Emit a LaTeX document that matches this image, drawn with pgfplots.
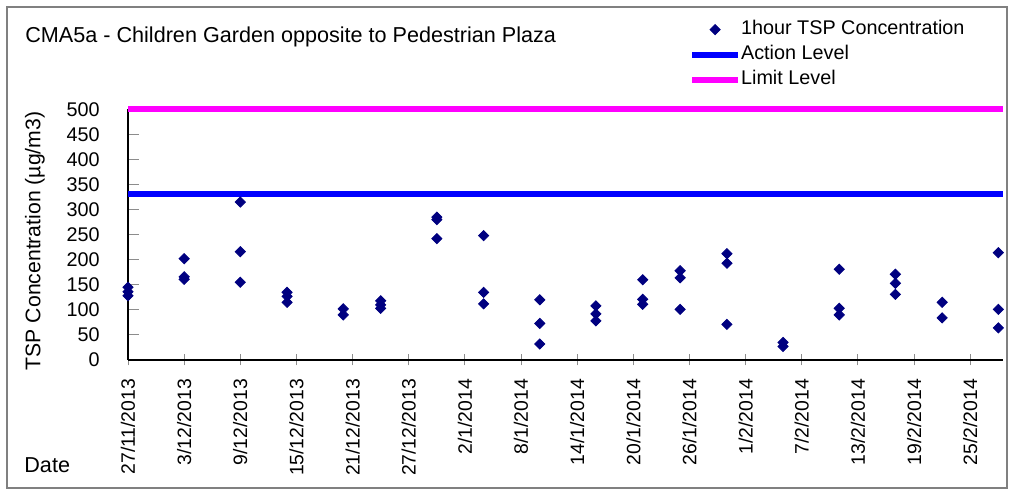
\documentclass[border=0pt]{standalone}
\usepackage{fontspec}
\setmainfont{Liberation Sans}
\usepackage{pgfplots}
\usepackage{pgfplotstable}
\pgfplotsset{compat=1.18}
\definecolor{navyc}{HTML}{000080}
\definecolor{actionc}{HTML}{0000FF}
\definecolor{limitc}{HTML}{FF00FF}
\pgfplotsset{mylegmark/.style={legend image code/.code={\path[draw=none,fill=none] (0pt,0pt) -- (23pt,0pt); \draw[##1] plot coordinates {(11.5pt,0pt)};}}}
\pgfplotstableread{
x y
0 145
0 136
0 128
6 202
6 166
6 161
12 315
12 216
12 155
17 135
17 127
17 115
23 102
23 90
27 118
27 110
27 103
33 285
33 280
33 242
38 248
38 135
38 112
44 120
44 73
44 32
50 108
50 92
50 78
55 160
55 121
55 111
59 178
59 164
59 101
64 212
64 193
64 71
70 35
70 27
76 181
76 103
76 90
82 171
82 153
82 131
87 115
87 84
93 214
93 101
93 64
}\tspdata
\begin{document}
\begin{tikzpicture}
\path[use as bounding box] (0pt,0pt) rectangle (508pt,245.5pt);
\draw[line width=0.6pt, color=black!50] (3.5pt,1.5pt) rectangle (503.5pt,242pt);
\node[anchor=base west, inner sep=0pt, font=\fontsize{10.8}{12}\selectfont] at (12.5pt,224pt) {CMA5a - Children Garden opposite to Pedestrian Plaza};
\node[anchor=base west, inner sep=0pt, font=\fontsize{10.8}{12}\selectfont] at (12pt,9pt) {Date};
\begin{axis}[
  at={(64pt,65.5pt)}, anchor=south west,
  scale only axis, width=437.5pt, height=125.35pt,
  xmin=0, xmax=93.5, ymin=0, ymax=500,
  clip=false,
  /pgf/number format/assume math mode=true,
  axis x line=bottom, axis y line=left,
  axis line style={-, black, line width=0.6pt},
  xtick={0,6,...,90},
  xticklabels={27/11/2013,3/12/2013,9/12/2013,15/12/2013,21/12/2013,27/12/2013,2/1/2014,8/1/2014,14/1/2014,20/1/2014,26/1/2014,1/2/2014,7/2/2014,13/2/2014,19/2/2014,25/2/2014},
  ytick={0,50,...,500},
  major tick length=5.5pt,
  xtick align=center,
  ytick align=inside,
  tick style={color=black!45, line width=0.5pt},
  xticklabel style={rotate=90, anchor=east, inner xsep=6.5pt, inner ysep=0pt, font=\fontsize{9.7}{11}\selectfont},
  yticklabel style={anchor=east, inner xsep=14pt, inner ysep=0pt, font=\fontsize{9.9}{11}\selectfont},
  ylabel={TSP Concentration (µg/m3)},
  every axis y label/.style={at={(axis description cs:-0.1063,0.475)}, anchor=center, rotate=90, font=\fontsize{10.6}{12}\selectfont},
  legend style={at={(axis description cs:0.6408,1.357)}, anchor=north west, draw=none, fill=none, inner sep=0pt, row sep=3.1pt,
    nodes={inner sep=0pt, text height=7.2pt, text depth=2.2pt, font=\fontsize{9.9}{11}\selectfont}},
  legend cell align=left,
  legend image code/.code={\draw[#1] (0pt,0pt) -- (23pt,0pt);},
]
\addplot[only marks, mark=square*, mark size=1.8pt, mark options={rotate=45, fill=navyc, draw=navyc}, mylegmark] table[x=x,y=y] {\tspdata};
\addlegendentry{1hour TSP Concentration}
\addplot[actionc, line width=3pt] coordinates {(0,331) (93.5,331)};
\addlegendentry{Action Level}
\addplot[limitc, line width=3pt] coordinates {(0,500) (93.5,500)};
\addlegendentry{Limit Level}
\end{axis}
\end{tikzpicture}
\end{document}
